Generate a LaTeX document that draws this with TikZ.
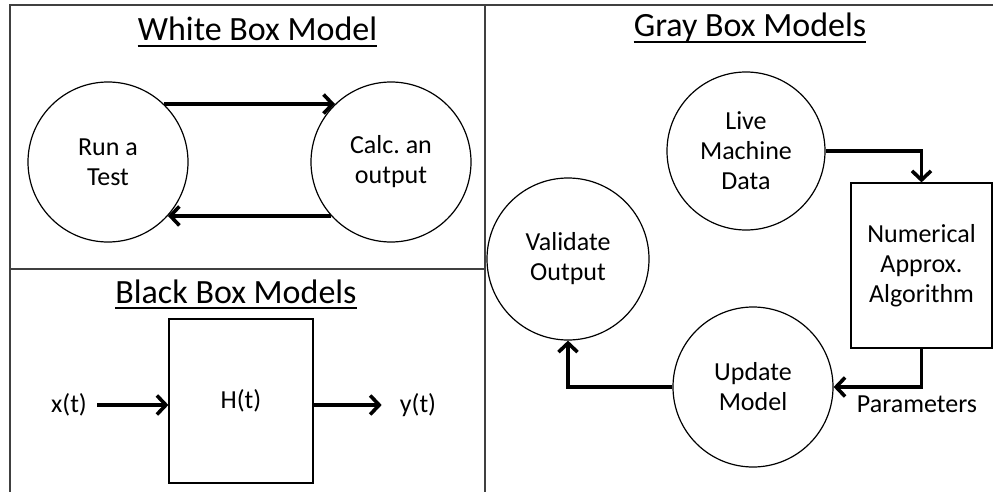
\documentclass[tikz,border=0pt]{standalone}
\usepackage{fontspec}
\setmainfont{Carlito}
\usepackage{tikz}
\usetikzlibrary{arrows.meta}
\frenchspacing

\begin{document}
\begin{tikzpicture}[x = 1pt, y = -1pt,
        frame/.style = {line width = 1.6pt, black!75},
        stage/.style = {circle, draw, line width = 1.2pt, minimum size = 160pt, align = center, font = \fontsize{26}{30}\selectfont},
        block/.style = {rectangle, draw, line width = 1.2pt, align = center, font = \fontsize{26}{30}\selectfont},
        sig/.style = {inner sep = 10pt, font = \fontsize{26}{30}\selectfont},
        heading/.style = {anchor = base, inner sep = 0pt, font = \fontsize{34}{40}\selectfont},
        flow/.style = {line width = 3.6pt, -{Straight Barb[length = 9pt, width = 19pt]}}]
            \useasboundingbox (0,0) rectangle (993,492);
            \draw[frame] (10,492) -- (10,5) -- (993,5);
            \draw[frame] (485,5) -- (485,492);
            \draw[frame] (10,269) -- (485,269);

            \node[heading] (wtitle) at (257.5,41) {White Box Model};
            \node[heading] (btitle) at (236,303) {Black Box Models};
            \node[heading] (gtitle) at (750,37) {Gray Box Models};
            \foreach \t in {wtitle, btitle, gtitle}
                \draw[line width = 1.6pt] ([yshift = -5pt]\t.base west) -- ([yshift = -5pt]\t.base east);

            \node[stage] (run) at (108,162) {Run a\\Test};
            \node[stage] (calc) at (391,162) {Calc. an\\output};
            \draw[flow] (run.46) -- (calc.134);
            \draw[flow] (calc.-138) -- (run.-42);

            \node[block, minimum width = 144pt, minimum height = 164pt] (hbox) at (241,401) {H(t)};
            \node[sig] (xin) at (69,405) {x(t)};
            \node[sig] (yout) at (418,405) {y(t)};
            \draw[flow] (xin.east) -- (xin.east -| hbox.west);
            \draw[flow, shorten > = 8pt] (hbox.east |- yout.west) -- (yout.west);

            \node[stage, minimum size = 158pt] (live) at (746,151) {Live\\Machine\\Data};
            \node[block, minimum width = 141pt, minimum height = 165pt] (algo) at (921.5,265.5) {Numerical\\Approx.\\Algorithm};
            \node[stage, minimum size = 162pt] (valid) at (568,259) {Validate\\Output};
            \node[stage] (update) at (753,387) {Update\\Model};
            \node[sig, inner sep = 0pt] (params) at (917,404) {Parameters};
            \draw[flow] (live.east) -| (algo.north);
            \draw[flow] (algo.south) |- (update.east);
            \draw[flow] (update.west) -| (valid.south);
\end{tikzpicture}
\end{document}
